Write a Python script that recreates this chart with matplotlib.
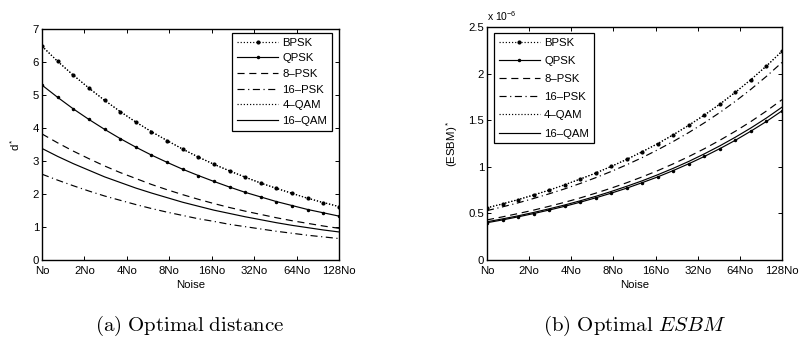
import matplotlib
matplotlib.use("Agg")
import matplotlib.pyplot as plt
from matplotlib.ticker import FuncFormatter

plt.rcParams['font.family'] = ['Liberation Sans', 'DejaVu Sans']
plt.rcParams['mathtext.fontset'] = 'custom'
plt.rcParams['mathtext.rm'] = 'Liberation Sans'
plt.rcParams['mathtext.it'] = 'Liberation Sans:italic'

# ---- data ----
x_pos = [0.0, 0.368, 0.737, 1.105, 1.474, 1.842, 2.211, 2.579, 2.947, 3.316,
         3.684, 4.053, 4.421, 4.789, 5.158, 5.526, 5.895, 6.263, 6.632, 7.0]
noise_ticks = [0, 1, 2, 3, 4, 5, 6, 7]
noise_labels = ['No', '2No', '4No', '8No', '16No', '32No', '64No', '128No']
series_names = ['BPSK', 'QPSK', '8\u2013PSK', '16\u2013PSK', '4\u2013QAM', '16\u2013QAM']

d_bpsk = [6.48, 6.02, 5.60, 5.21, 4.84, 4.50, 4.18, 3.89, 3.62, 3.36,
          3.12, 2.90, 2.70, 2.51, 2.33, 2.17, 2.02, 1.87, 1.74, 1.62]
d_qpsk = [5.30, 4.93, 4.58, 4.26, 3.96, 3.68, 3.42, 3.18, 2.96, 2.75,
          2.56, 2.38, 2.21, 2.05, 1.91, 1.77, 1.65, 1.53, 1.43, 1.33]
d_8psk = [3.82, 3.55, 3.30, 3.07, 2.85, 2.65, 2.47, 2.29, 2.13, 1.98,
          1.84, 1.71, 1.59, 1.48, 1.38, 1.28, 1.19, 1.11, 1.03, 0.96]
d_16psk = [2.60, 2.42, 2.25, 2.09, 1.94, 1.81, 1.68, 1.56, 1.45, 1.35,
           1.25, 1.17, 1.08, 1.01, 0.94, 0.87, 0.81, 0.75, 0.70, 0.65]
d_4qam = [6.48, 6.02, 5.60, 5.21, 4.84, 4.50, 4.18, 3.89, 3.62, 3.36,
          3.12, 2.90, 2.70, 2.51, 2.33, 2.17, 2.02, 1.87, 1.74, 1.62]
d_16qam = [3.38, 3.14, 2.92, 2.72, 2.52, 2.35, 2.18, 2.03, 1.89, 1.75,
           1.63, 1.51, 1.41, 1.31, 1.22, 1.13, 1.05, 0.98, 0.91, 0.85]

# ESBM values in units of 1e-6
e_bpsk = [0.560, 0.602, 0.648, 0.697, 0.750, 0.807, 0.868, 0.933, 1.004, 1.080,
          1.162, 1.249, 1.344, 1.446, 1.555, 1.673, 1.800, 1.936, 2.082, 2.240]
e_qpsk = [0.400, 0.430, 0.463, 0.498, 0.536, 0.576, 0.620, 0.667, 0.717, 0.771,
          0.830, 0.892, 0.960, 1.033, 1.111, 1.195, 1.285, 1.383, 1.487, 1.600]
e_8psk = [0.430, 0.463, 0.498, 0.535, 0.576, 0.619, 0.666, 0.717, 0.771, 0.829,
          0.892, 0.959, 1.032, 1.110, 1.194, 1.285, 1.382, 1.486, 1.599, 1.720]
e_16psk = [0.530, 0.570, 0.613, 0.660, 0.710, 0.763, 0.821, 0.883, 0.950, 1.022,
           1.099, 1.183, 1.272, 1.368, 1.472, 1.583, 1.703, 1.832, 1.971, 2.120]
e_4qam = [0.560, 0.602, 0.648, 0.697, 0.750, 0.807, 0.868, 0.933, 1.004, 1.080,
          1.162, 1.249, 1.344, 1.446, 1.555, 1.673, 1.800, 1.936, 2.082, 2.240]
e_16qam = [0.410, 0.441, 0.474, 0.510, 0.549, 0.590, 0.635, 0.683, 0.735, 0.791,
           0.850, 0.915, 0.984, 1.058, 1.139, 1.225, 1.318, 1.417, 1.524, 1.640]

styles = [dict(ls=':', marker='.', ms=4),
          dict(ls='-', marker='.', ms=3),
          dict(ls=(0, (6, 4)), marker=None),
          dict(ls=(0, (6, 3, 1, 3)), marker=None),
          dict(ls=':', marker=None),
          dict(ls='-', marker=None)]

fig = plt.figure(figsize=(8.01, 3.39), dpi=100)
axL = fig.add_axes([42/801, 79/339, 297/801, 231/339])
axR = fig.add_axes([487/801, 79/339, 295/801, 233/339])

FS = 8.2

def style_axes(ax):
    ax.set_xlim(0, 7)
    ax.set_xticks(noise_ticks)
    ax.set_xticklabels(noise_labels)
    ax.tick_params(direction='in', top=True, right=True, length=3, width=0.7,
                   labelsize=FS, colors='black')
    ax.tick_params(axis='x', pad=4)
    ax.tick_params(axis='y', pad=2)
    for s in ax.spines.values():
        s.set_linewidth(1.0)
    ax.set_xlabel('Noise', fontsize=FS, labelpad=3)

left_data = [d_bpsk, d_qpsk, d_8psk, d_16psk, d_4qam, d_16qam]
for name, vals, st in zip(series_names, left_data, styles):
    axL.plot(x_pos, vals, color='black', lw=0.85, label=name, **st)
style_axes(axL)
axL.set_ylim(0, 7)
axL.set_yticks(range(8))
axL.set_ylabel('d$^*$', fontsize=FS, labelpad=8)

right_data = [e_bpsk, e_qpsk, e_8psk, e_16psk, e_4qam, e_16qam]
for name, vals, st in zip(series_names, right_data, styles):
    axR.plot(x_pos, vals, color='black', lw=0.85, label=name, **st)
style_axes(axR)
axR.set_ylim(0, 2.5)
axR.set_yticks([0, 0.5, 1, 1.5, 2, 2.5])
axR.yaxis.set_major_formatter(FuncFormatter(lambda v, p: ('%g' % v)))
axR.set_ylabel('(ESBM)$^*$', fontsize=FS, labelpad=6)
fig.text(487/801, 1 - 16/339, 'x 10$^{-6}$', fontsize=FS - 0.7, ha='left', va='center')

leg_kw = dict(fontsize=FS, numpoints=1, handlelength=3.6, handletextpad=0.4,
              borderpad=0.4, fancybox=False, framealpha=1,
              edgecolor='black', borderaxespad=0)
legL = axL.legend(loc='upper right', bbox_to_anchor=(332/801, 1 - 33/339),
                  bbox_transform=fig.transFigure, labelspacing=0.5, **leg_kw)
legL.get_frame().set_linewidth(0.9)
legR = axR.legend(loc='upper left', bbox_to_anchor=(494/801, 1 - 33/339),
                  bbox_transform=fig.transFigure, labelspacing=0.72, **leg_kw)
legR.get_frame().set_linewidth(0.9)

fig.text(190/801, 1 - 326/339, r'$\mathrm{(a)\ Optimal\ distance}$', fontsize=15,
         ha='center', va='center', math_fontfamily='cm')
fig.text(634/801, 1 - 326/339, r'$\mathrm{(b)\ Optimal\ }ESBM$', fontsize=15,
         ha='center', va='center', math_fontfamily='cm')

fig.savefig('out.png', dpi=100)
